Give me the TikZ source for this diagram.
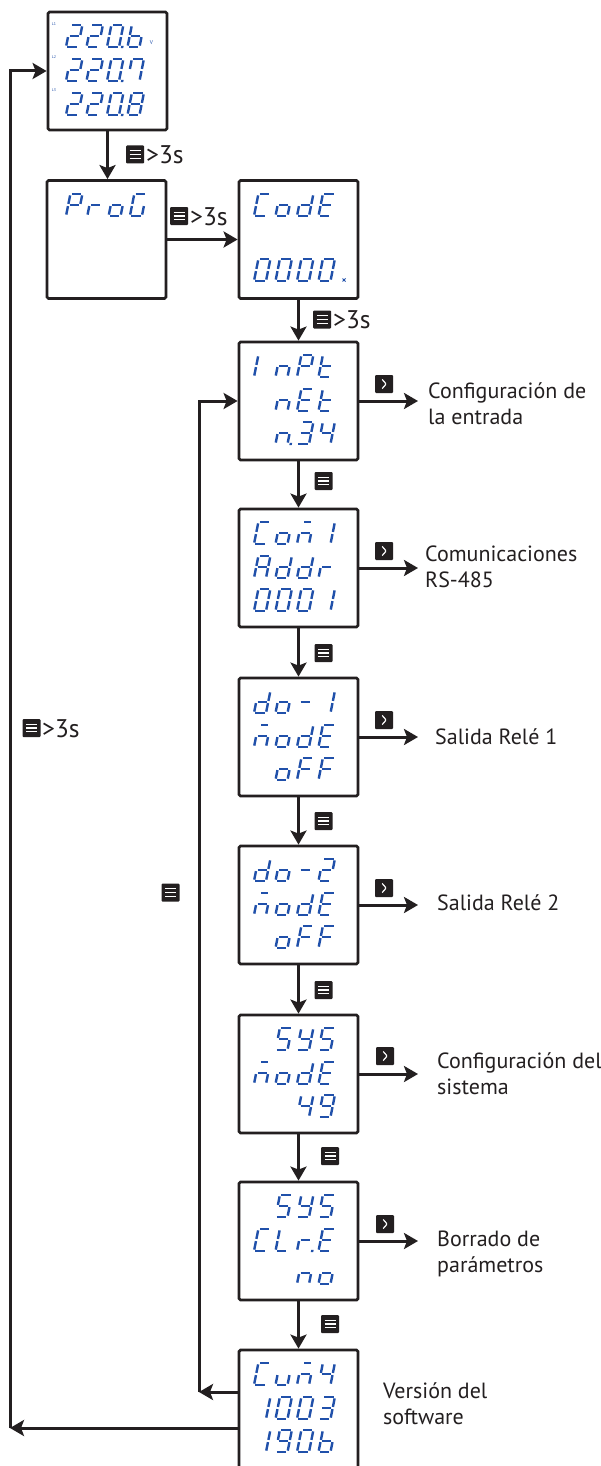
\documentclass[tikz,border=0pt]{standalone}
\usepackage{fontspec}
\setmainfont{PT Sans}
\usetikzlibrary{arrows.meta}
\definecolor{segblue}{RGB}{32,80,170}
\definecolor{ink}{RGB}{35,31,32}
% seven-segment pieces (local frame: u right, v up)
\def\sgDa{\draw[seg] (1.4,22)--(10.6,22);}
\def\sgDb{\draw[seg] (12,20.6)--(12,12.1);}
\def\sgDc{\draw[seg] (12,9.9)--(12,1.4);}
\def\sgDd{\draw[seg] (1.4,0)--(10.6,0);}
\def\sgDe{\draw[seg] (0,1.4)--(0,9.9);}
\def\sgDf{\draw[seg] (0,12.1)--(0,20.6);}
\def\sgDg{\draw[seg] (1.4,11)--(10.6,11);}
\def\sgDm{\draw[seg] (2.6,22)--(9.4,22);}
\def\sgDp{\fill[segblue] (14,-1.2) rectangle (16.4,1.2);}
\def\sgDx{}
\newcommand\segrow[4]{%
  \foreach \segs [count=\k from 0] in {#4}{%
    \begin{scope}[shift={({#1+\k*#3},#2)}, yscale=-1, xslant=-0.2]
      \foreach \s in \segs {\csname sgD\s\endcsname}
    \end{scope}}}
\tikzset{
  seg/.style={draw=segblue, line width=2.4pt},
  disp/.style={draw=ink, fill=white, line width=2.8pt, rounded corners=1.5pt,
    minimum width=119pt, minimum height=118pt, inner sep=0pt},
  arr/.style={draw=ink, line width=3pt, -{Stealth[length=14pt,width=16pt,inset=3pt]}},
  lbl/.style={text=ink, font=\fontsize{22}{26}\selectfont, inner sep=0pt, anchor=base west},
  keylbl/.style={text=ink, font=\fontsize{25.5}{27}\selectfont, inner sep=0pt, anchor=base west},
  lsmall/.style={text=segblue, font=\fontsize{4}{4}\selectfont, inner sep=0pt},
  menuic/.style={fill=ink, minimum size=18pt, inner sep=0pt, rounded corners=1pt,
    path picture={\foreach \dy in {-3.6,0,3.6}{\draw[white,line width=1.1pt]
      ([shift={(-5.5pt,\dy pt)}]path picture bounding box.center) -- ++(11pt,0pt);}}},
  chevic/.style={fill=ink, minimum size=18pt, inner sep=0pt, rounded corners=1pt,
    path picture={\draw[white,line width=1.2pt]
      ([shift={(-1.8pt,4.5pt)}]path picture bounding box.center) -- ++(4pt,-4.5pt) -- ++(-4pt,-4.5pt);}}
}
\begin{document}
\begin{tikzpicture}[x=1pt,y=-1pt]
\useasboundingbox (0,0) rectangle (601,1466);
\fill[white] (0,0) rectangle (601,1466);
% displays
\node[disp] (b0) at (107.5,71) {};
\node[disp] (prog) at (106.5,239.5) {};
\node[disp] (code) at (298.5,239.5) {};
\node[disp] (inpt) at (298.5,401) {};
\node[disp] (com1) at (298.5,568) {};
\node[disp] (do1) at (298.5,737) {};
\node[disp] (do2) at (298.5,905) {};
\node[disp] (sys1) at (298.5,1074) {};
\node[disp] (sys2) at (298.5,1241) {};
\node[disp] (cun) at (298.5,1409) {};
% display contents
\segrow{66}{47}{20.5}{{a,b,g,e,d},{a,b,g,e,d},{a,b,c,d,e,f,p},{f,e,d,c,g}}
\segrow{66}{81}{20.5}{{a,b,g,e,d},{a,b,g,e,d},{a,b,c,d,e,f,p},{a,b,c,f}}
\segrow{66}{115}{20.5}{{a,b,g,e,d},{a,b,g,e,d},{a,b,c,d,e,f,p},{a,b,c,d,e,f,g}}
\node[lsmall] (l1) at (54,24) {L1};
\node[lsmall] (l2) at (54,57) {L2};
\node[lsmall] (l3) at (54,90) {L3};
\node[lsmall, font=\fontsize{5.5}{6}\selectfont] (vv) at (151.5,43) {V};
\segrow{66}{216}{21.3}{{a,b,f,g,e},{e,g},{c,d,e,g},{a,f,e,d,c}}
\segrow{254}{216}{21.5}{{a,f,e,d},{c,d,e,g},{b,c,d,e,g},{a,f,g,e,d}}
\segrow{254}{281}{21.5}{{a,b,c,d,e,f},{a,b,c,d,e,f},{a,b,c,d,e,f},{a,b,c,d,e,f}}
\draw[segblue, line width=0.9pt] (342.5,278.5)--(345.5,281.5) (342.5,281.5)--(345.5,278.5);
% InPt
\segrow{254}{377}{21.5}{{e,f},{c,e,g},{a,b,f,g,e},{f,e,d,g}}
\segrow{254}{411}{21.5}{{x},{c,e,g},{a,f,g,e,d},{f,e,d,g}}
\segrow{254}{444}{21.5}{{x},{c,e,g,p},{a,b,g,c,d},{f,g,b,c}}
% Com1
\segrow{254}{544}{21.5}{{a,f,e,d},{c,d,e,g},{m,c,e,g},{b,c}}
\segrow{254}{578}{21.5}{{a,b,c,e,f,g},{b,c,d,e,g},{b,c,d,e,g},{e,g}}
\segrow{254}{611}{21.5}{{a,b,c,d,e,f},{a,b,c,d,e,f},{a,b,c,d,e,f},{b,c}}
% do-1
\segrow{254}{713}{21.5}{{b,c,d,e,g},{c,d,e,g},{g},{b,c}}
\segrow{254}{747}{21.5}{{m,c,e,g},{c,d,e,g},{b,c,d,e,g},{a,f,g,e,d}}
\segrow{254}{780}{21.5}{{x},{c,d,e,g},{a,f,g,e},{a,f,g,e}}
% do-2
\segrow{254}{881}{21.5}{{b,c,d,e,g},{c,d,e,g},{g},{a,b,g,e,d}}
\segrow{254}{915}{21.5}{{m,c,e,g},{c,d,e,g},{b,c,d,e,g},{a,f,g,e,d}}
\segrow{254}{948}{21.5}{{x},{c,d,e,g},{a,f,g,e},{a,f,g,e}}
% SYS mode
\segrow{254}{1050}{21.5}{{x},{a,f,g,c,d},{f,g,b,c,d},{a,f,g,c,d}}
\segrow{254}{1084}{21.5}{{m,c,e,g},{c,d,e,g},{b,c,d,e,g},{a,f,g,e,d}}
\segrow{254}{1117}{21.5}{{x},{x},{f,g,b,c},{a,b,c,d,f,g}}
% SYS CLr.E
\segrow{254}{1217}{21.5}{{x},{a,f,g,c,d},{f,g,b,c,d},{a,f,g,c,d}}
\segrow{254}{1251}{21.5}{{a,f,e,d},{f,e,d},{e,g,p},{a,f,g,e,d}}
\segrow{254}{1284}{21.5}{{x},{x},{c,e,g},{c,d,e,g}}
% Cun4
\segrow{254}{1385}{21.5}{{a,f,e,d},{c,d,e},{m,c,e,g},{f,g,b,c}}
\segrow{254}{1419}{21.5}{{b,c},{a,b,c,d,e,f},{a,b,c,d,e,f},{a,b,g,c,d}}
\segrow{254}{1452}{21.5}{{b,c},{a,b,c,d,f,g},{a,b,c,d,e,f},{f,e,d,c,g}}
% main chain
\draw[arr] (b0.south) -- (b0.south |- prog.north);
\draw[arr] (prog.east) -- (code.west);
\draw[arr] (code.south) -- (inpt.north);
\draw[arr] (inpt.south) -- (com1.north);
\draw[arr] (com1.south) -- (do1.north);
\draw[arr] (do1.south) -- (do2.north);
\draw[arr] (do2.south) -- (sys1.north);
\draw[arr] (sys1.south) -- (sys2.north);
\draw[arr] (sys2.south) -- (cun.north);
% key icons on the chain
\node[menuic] (k1) at (135,154.5) {};
\node[keylbl] (t1) at (146,163.5) {>3s};
\node[menuic] (k2) at (179,216) {};
\node[keylbl] (t2) at (190,225) {>3s};
\node[menuic] (k3) at (322,319.5) {};
\node[keylbl] (t3) at (333,328.5) {>3s};
\node[menuic] (k4) at (323.5,481) {};
\node[menuic] (k5) at (323.5,653) {};
\node[menuic] (k6) at (323.5,821) {};
\node[menuic] (k7) at (323.5,990) {};
\node[menuic] (k8) at (330,1156) {};
\node[menuic] (k9) at (330,1324) {};
% side branches
\coordinate (r1) at (418,401);
\coordinate (r2) at (418,568);
\coordinate (r3) at (418,737);
\coordinate (r4) at (418,905);
\coordinate (r5) at (418,1074);
\coordinate (r6) at (418,1241);
\draw[arr] (inpt.east) -- (r1);
\draw[arr] (com1.east) -- (r2);
\draw[arr] (do1.east) -- (r3);
\draw[arr] (do2.east) -- (r4);
\draw[arr] (sys1.east) -- (r5);
\draw[arr] (sys2.east) -- (r6);
\node[chevic] (c1) at (384,384) {};
\node[chevic] (c2) at (384,551) {};
\node[chevic] (c3) at (384,720) {};
\node[chevic] (c4) at (384,888) {};
\node[chevic] (c5) at (385,1056) {};
\node[chevic] (c6) at (385,1224) {};
\node[lbl] (s1a) at (428,398) {Configuración de};
\node[lbl] (s1b) at (428,424) {la entrada};
\node[lbl] (s2a) at (425,561) {Comunicaciones};
\node[lbl] (s2b) at (425,587) {RS-485};
\node[lbl] (s3) at (435,744) {Salida Relé 1};
\node[lbl] (s4) at (437,910) {Salida Relé 2};
\node[lbl] (s5a) at (437,1068) {Configuración del};
\node[lbl] (s5b) at (437,1094) {sistema};
\node[lbl] (s6a) at (437,1246) {Borrado de};
\node[lbl] (s6b) at (437,1272) {parámetros};
\node[lbl] (s7a) at (383,1398) {Versión del};
\node[lbl] (s7b) at (383,1424) {software};
% loops
\coordinate (il) at (199,1392);
\coordinate (ol) at (10,1428);
\draw[arr] (cun.west |- il) -- (il);
\draw[arr] (il) -- (il |- inpt.west) -- (inpt.west);
\draw[arr] (cun.west |- ol) -- (ol);
\draw[arr] (ol) -- (ol |- b0.west) -- (b0.west);
\node[menuic] (k10) at (170.5,892.5) {};
\node[menuic] (k11) at (31.5,728) {};
\node[keylbl] (t11) at (42,737) {>3s};
\end{tikzpicture}
\end{document}
